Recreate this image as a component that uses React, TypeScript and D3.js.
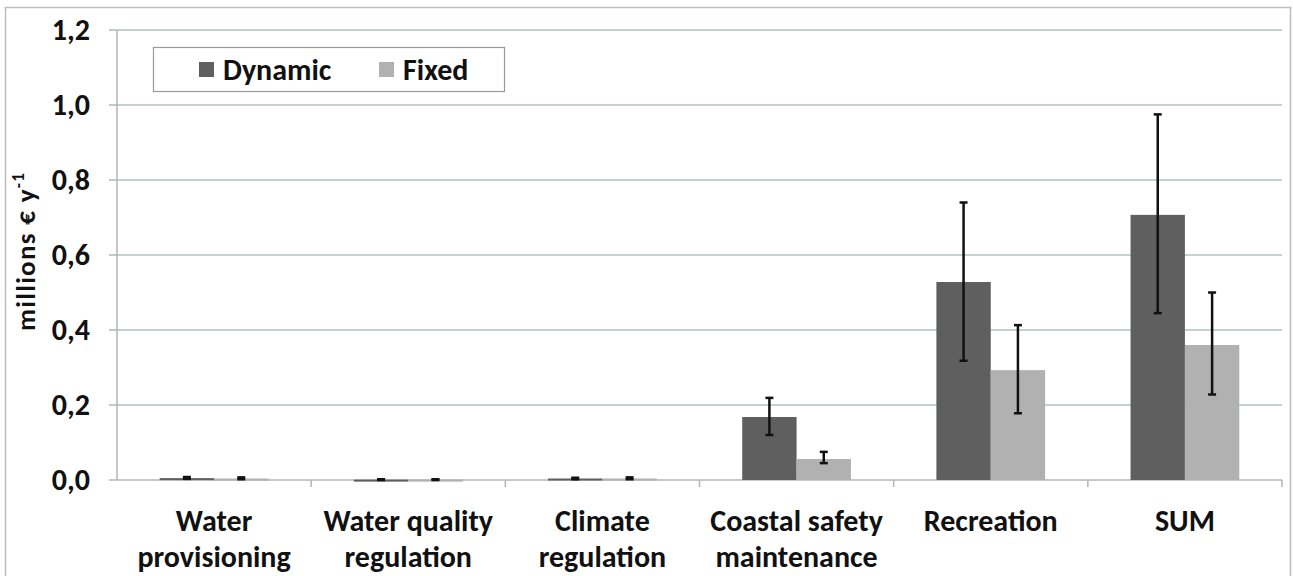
import React from 'react'
import * as d3 from 'd3'

// values (millions € per year)
const categories = [
  ['Water', 'provisioning'],
  ['Water quality', 'regulation'],
  ['Climate', 'regulation'],
  ['Coastal safety', 'maintenance'],
  ['Recreation'],
  ['SUM'],
]
const series = ['Dynamic', 'Fixed']
const dynamicValues = [0.005, 0.001, 0.004, 0.168, 0.528, 0.707]
const dynamicLow = [0.003, 0.0, 0.002, 0.12, 0.318, 0.445]
const dynamicHigh = [0.008, 0.002, 0.006, 0.219, 0.74, 0.975]
const fixedValues = [0.004, 0.001, 0.004, 0.056, 0.293, 0.36]
const fixedLow = [0.002, 0.0, 0.002, 0.045, 0.178, 0.228]
const fixedHigh = [0.007, 0.002, 0.007, 0.075, 0.413, 0.5]
const yTicks = [0, 0.2, 0.4, 0.6, 0.8, 1.0, 1.2]

const colors = { Dynamic: '#5f5f5f', Fixed: '#b1b1b1' }

export default function App() {
  const width = 1293, height = 576
  const margin = { top: 30, right: 11, bottom: 96, left: 117 }
  const w = width - margin.left - margin.right
  const h = height - margin.top - margin.bottom
  const font = 'Carlito, Lato, "Open Sans", sans-serif'

  const x = d3.scaleBand<number>()
    .domain(categories.map((_, i) => i))
    .range([0, w])
  const sub = d3.scaleBand<string>()
    .domain(series)
    .range([x.bandwidth() * 0.22, x.bandwidth() * 0.78])
  const y = d3.scaleLinear().domain([0, 1.2]).range([h, 0])

  const rows = categories.map((c, i) => ({
    i,
    bars: [
      { s: 'Dynamic', v: dynamicValues[i], lo: dynamicLow[i], hi: dynamicHigh[i] },
      { s: 'Fixed', v: fixedValues[i], lo: fixedLow[i], hi: fixedHigh[i] },
    ],
  }))

  const fmt = (d: number) => d.toFixed(1).replace('.', ',')

  return (
    <svg width={width} height={height} style={{ position: 'absolute', left: 0, top: 0 }}>
      <rect x={5.5} y={7.5} width={1285} height={580} fill="#fff" stroke="#bdbdbd" strokeWidth={1.5} />
      <g transform={`translate(${margin.left},${margin.top})`}>
        {/* gridlines + y ticks */}
        {yTicks.map(t => (
          <g key={t}>
            {t > 0 && <line x1={0} x2={w} y1={y(t)} y2={y(t)} stroke="#c6d0cf" strokeWidth={2} />}
            <line x1={-8} x2={0} y1={y(t)} y2={y(t)} stroke="#b5b5b5" strokeWidth={1.5} />
            <text x={-27} y={y(t)} dy="0.34em" textAnchor="end" fontFamily={font} fontWeight={700}
              fontSize={30} fill="#111">{fmt(t)}</text>
          </g>
        ))}
        <line x1={0} x2={0} y1={0} y2={h} stroke="#b5b5b5" strokeWidth={1.5} />
        <line x1={0} x2={w} y1={h} y2={h} stroke="#b5b5b5" strokeWidth={1.5} />
        {categories.map((_, i) => (
          <line key={i} x1={x(i)! + x.bandwidth()} x2={x(i)! + x.bandwidth()} y1={h} y2={h + 7}
            stroke="#b5b5b5" strokeWidth={1.5} />
        ))}

        {/* bars and error bars */}
        {rows.map(r => (
          <g key={r.i} transform={`translate(${x(r.i)},0)`}>
            {r.bars.map(b => {
              const bx = sub(b.s)!
              const cx = bx + sub.bandwidth() / 2
              return (
                <g key={b.s}>
                  <rect x={bx} y={y(b.v)} width={sub.bandwidth()} height={Math.max(h - y(b.v), 2)}
                    fill={colors[b.s as keyof typeof colors]} />
                  <line x1={cx} x2={cx} y1={y(b.hi)} y2={y(b.lo)} stroke="#111" strokeWidth={2.5} />
                  <line x1={cx - 4} x2={cx + 4} y1={y(b.hi)} y2={y(b.hi)} stroke="#111" strokeWidth={2.5} />
                  <line x1={cx - 4} x2={cx + 4} y1={y(b.lo)} y2={y(b.lo)} stroke="#111" strokeWidth={2.5} />
                </g>
              )
            })}
          </g>
        ))}

        {/* category labels */}
        {categories.map((c, i) => (
          <text key={i} x={x(i)! + x.bandwidth() / 2} y={h + 51} textAnchor="middle" fontFamily={font}
            fontWeight={700} fontSize={30} fill="#111">
            {c.map((line, k) => (
              <tspan key={k} x={x(i)! + x.bandwidth() / 2} dy={k === 0 ? 0 : 36}>{line}</tspan>
            ))}
          </text>
        ))}
      </g>

      {/* y axis title */}
      <text transform="translate(35,252) rotate(-90)" textAnchor="middle" fontFamily={font} fontWeight={700}
        fontSize={27} fill="#111" textLength={158} lengthAdjust="spacing">
        millions € y<tspan dy={-11} fontSize={17}>-1</tspan>
      </text>

      {/* legend */}
      <rect x={153.5} y={47.5} width={351} height={44} fill="#fff" stroke="#9a9a9a" strokeWidth={1.2} />
      {series.map((s, i) => {
        const lx = i === 0 ? 199 : 379
        return (
          <g key={s}>
            <rect x={lx} y={62} width={15} height={15} fill={colors[s as keyof typeof colors]} />
            <text x={lx + 24} y={70} dy="0.34em" fontFamily={font} fontWeight={700} fontSize={30} fill="#111">{s}</text>
          </g>
        )
      })}
    </svg>
  )
}
